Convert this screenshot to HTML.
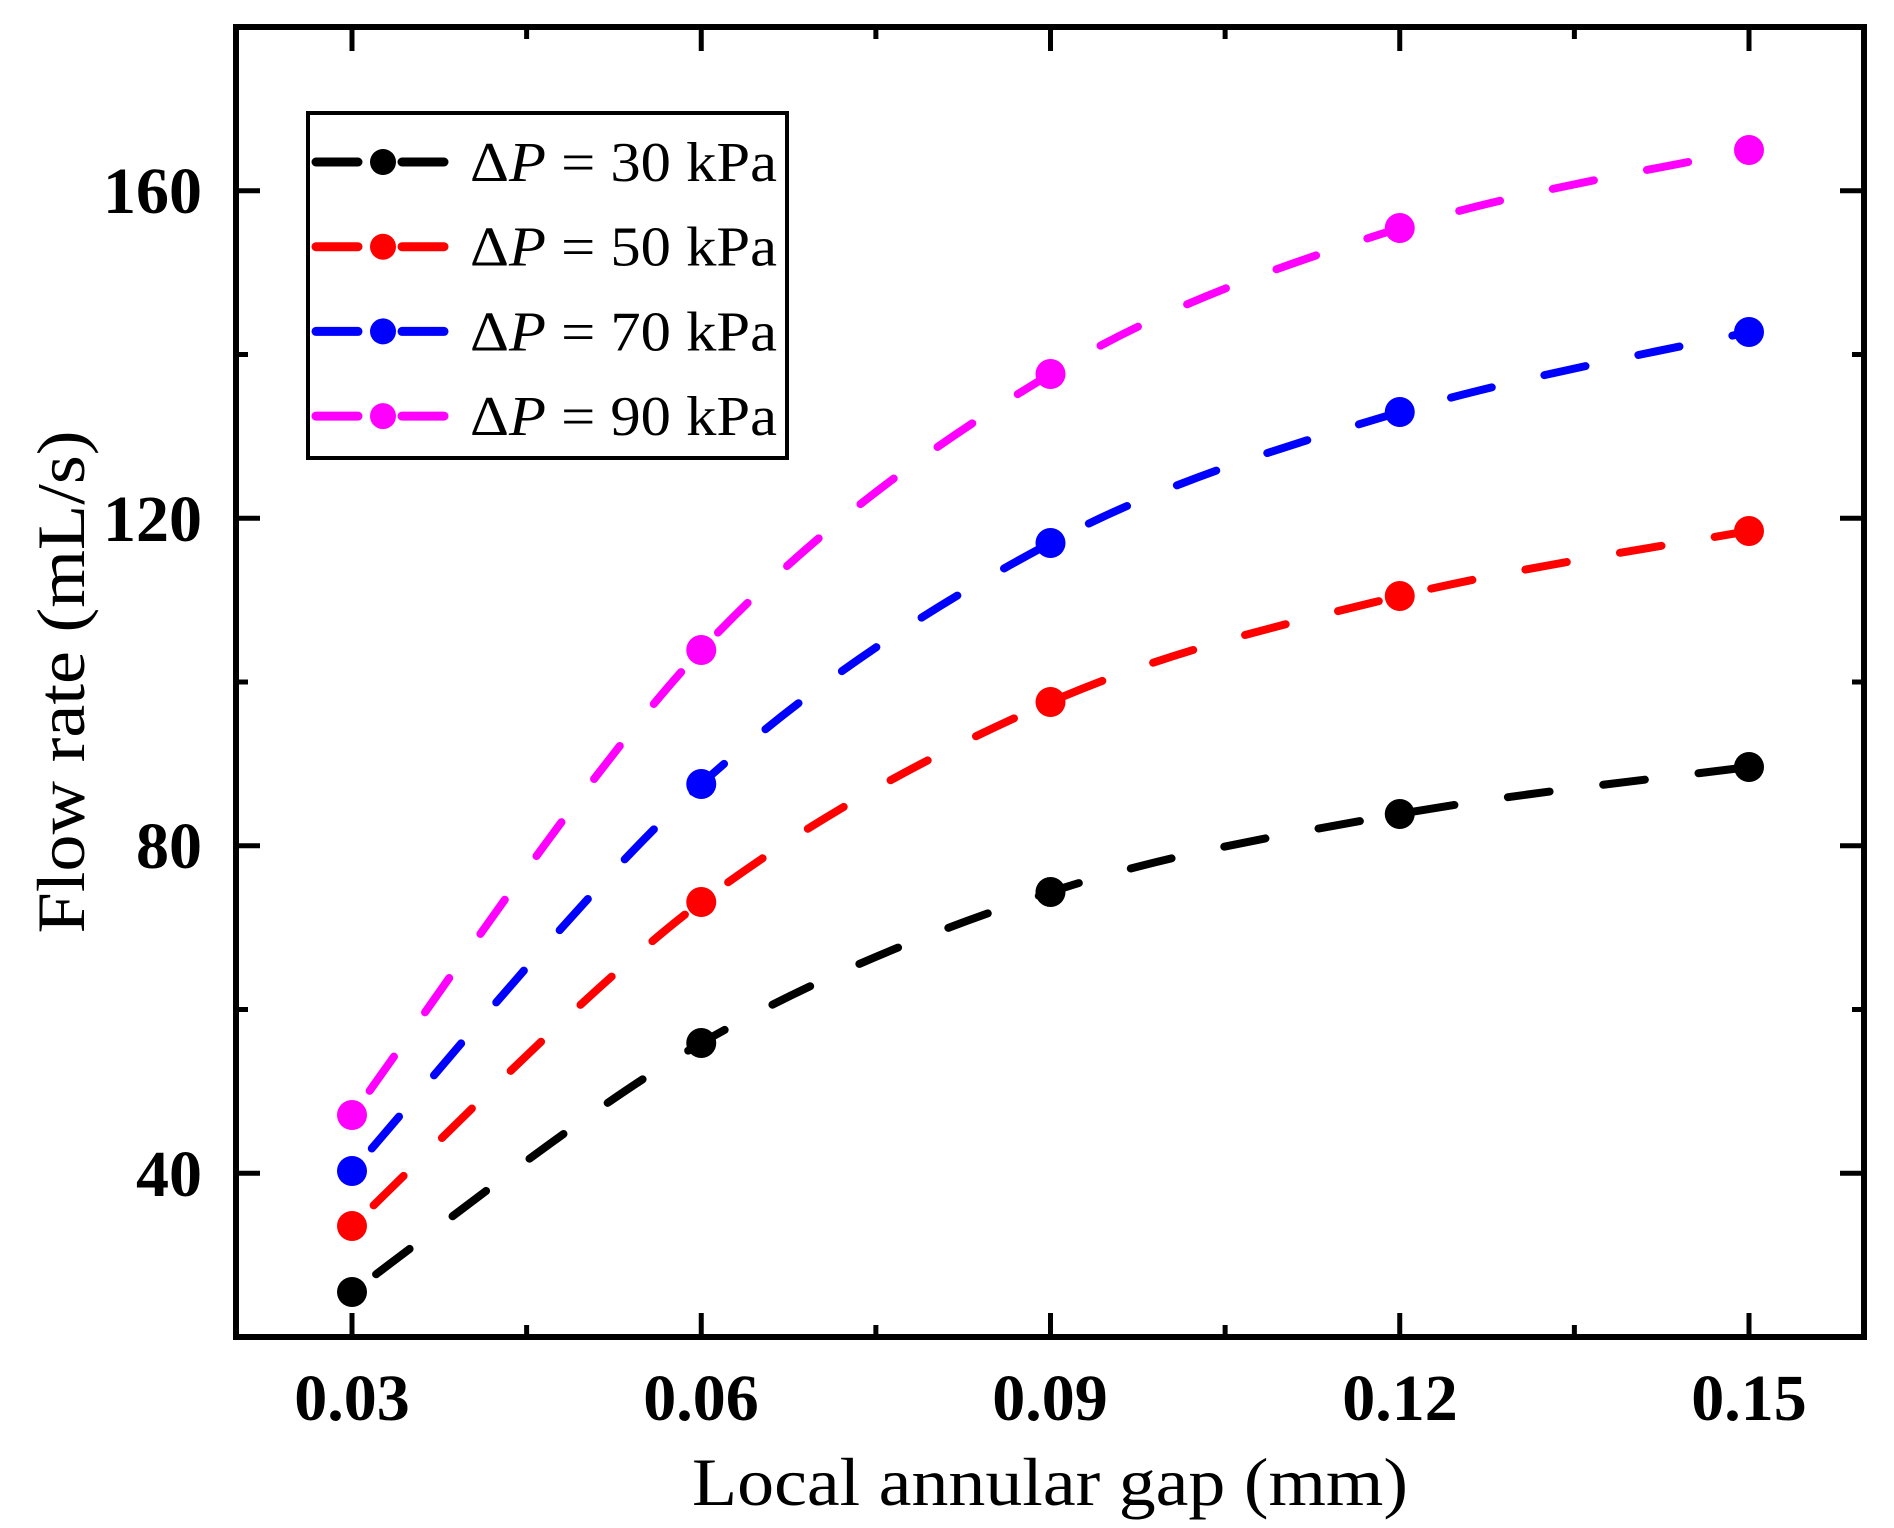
<!DOCTYPE html>
<html><head><meta charset="utf-8"><style>
html,body{margin:0;padding:0;background:#fff;}
svg{display:block;}
text{font-family:"Liberation Serif","Times New Roman",serif;}
</style></head><body>
<svg id="s" width="1894" height="1528" viewBox="0 0 1894 1528" xmlns="http://www.w3.org/2000/svg" font-family="Liberation Serif, serif">
<g id="ticks" stroke="#000" stroke-width="5"></g>
<g id="series"></g>
<rect x="236" y="27" width="1628" height="1310" fill="none" stroke="#000" stroke-width="6"/>
<g font-size="66" font-weight="bold" text-anchor="middle">
<text x="352" y="1420">0.03</text>
<text x="701" y="1420">0.06</text>
<text x="1050" y="1420">0.09</text>
<text x="1400" y="1420">0.12</text>
<text x="1749" y="1420">0.15</text>
</g>
<g font-size="66" font-weight="bold" text-anchor="end">
<text x="202" y="1196">40</text>
<text x="202" y="868">80</text>
<text x="202" y="541">120</text>
<text x="202" y="213">160</text>
</g>
<text x="1050" y="1505" font-size="68" text-anchor="middle" textLength="716" lengthAdjust="spacingAndGlyphs">Local annular gap (mm)</text>
<text transform="translate(84,682) rotate(-90)" font-size="68" text-anchor="middle" textLength="503" lengthAdjust="spacingAndGlyphs">Flow rate (mL/s)</text>
<rect x="308" y="113" width="479" height="345" fill="#fff" stroke="#000" stroke-width="4"/>
<g id="legend"></g>
</svg>
<script>
var NS="http://www.w3.org/2000/svg";
function el(t,a,p){var e=document.createElementNS(NS,t);for(var k in a)e.setAttribute(k,a[k]);p.appendChild(e);return e;}
var T=document.getElementById('ticks');
var st=349.25;
var xs=[0,1,2,3,4].map(function(i){return 352+st*i;});
for(var i=0;i<11;i++){var x=352-st/2*2+st/2*i; if(x<=240||x>=1860)continue;var maj=(i%2==0);var L=maj?24:12;
el('line',{x1:x,y1:1337,x2:x,y2:1337-L},T);el('line',{x1:x,y1:27,x2:x,y2:27+L},T);}
for(var v=20;v<=180;v+=20){var y=1337-(v-20)*8.1875;if(y<=27||y>=1337)continue;var maj=(v%40==0);var L=maj?24:12;
el('line',{x1:236,y1:y,x2:236+L,y2:y},T);el('line',{x1:1864,y1:y,x2:1864-L,y2:y},T);}
var data=[["#000",[1292,1043,892,814,767]],["#ff0000",[1226,902,702,596,531]],["#0000ff",[1171,784,543,412,332]],["#ff00ff",[1115,650,374,228,150]]];
var S=document.getElementById('series');
data.forEach(function(d){var ys=d[1];var P=xs.map(function(x,i){return[x,ys[i]];});
var s="M"+P[0][0]+","+P[0][1];
for(var i=0;i<P.length-1;i++){var p0=P[Math.max(0,i-1)],p1=P[i],p2=P[i+1],p3=P[Math.min(P.length-1,i+2)];
var c1=[p1[0]+(p2[0]-p0[0])/6,p1[1]+(p2[1]-p0[1])/6],c2=[p2[0]-(p3[0]-p1[0])/6,p2[1]-(p3[1]-p1[1])/6];
s+=" C"+c1+" "+c2+" "+p2;}
el('path',{d:s,fill:"none",stroke:d[0],"stroke-width":8,"stroke-linecap":"round","stroke-dasharray":"42 54","stroke-dashoffset":"-30"},S);
P.forEach(function(p){el('circle',{cx:p[0],cy:p[1],r:15,fill:d[0]},S);});});
var G=document.getElementById('legend');
var labels=["30","50","70","90"];
data.forEach(function(d,i){var y=162+84.7*i;
el('line',{x1:316,y1:y,x2:358,y2:y,stroke:d[0],"stroke-width":9,"stroke-linecap":"round"},G);
el('line',{x1:402,y1:y,x2:444,y2:y,stroke:d[0],"stroke-width":9,"stroke-linecap":"round"},G);
el('circle',{cx:383,cy:y,r:13,fill:d[0]},G);
var t=el('text',{x:470,y:y+19,"font-size":56,textLength:307,lengthAdjust:"spacingAndGlyphs"},G);
t.appendChild(document.createTextNode("\u0394"));
var it=el('tspan',{"font-style":"italic"},t);it.appendChild(document.createTextNode("P"));
t.appendChild(document.createTextNode(" = "+labels[i]+" kPa"));});
</script>
</body></html>
